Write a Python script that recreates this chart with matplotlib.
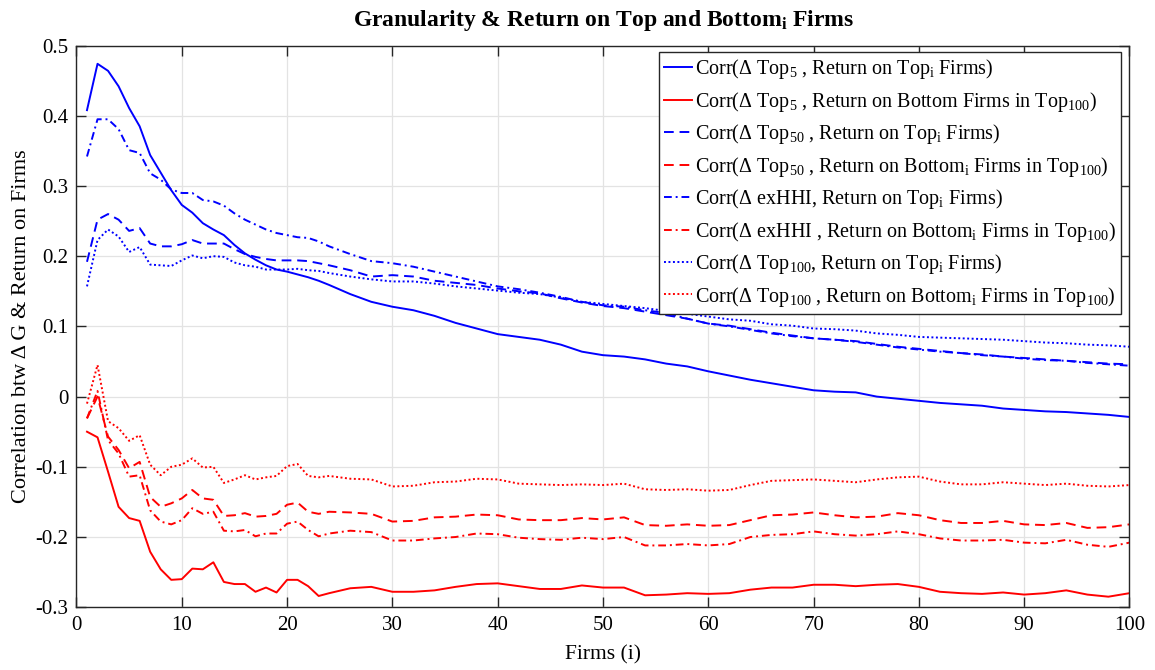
import matplotlib
matplotlib.use("Agg")
import matplotlib.pyplot as plt

plt.rcParams["font.family"] = ["Liberation Serif", "DejaVu Serif"]
plt.rcParams["mathtext.fontset"] = "custom"
plt.rcParams["mathtext.rm"] = "Liberation Serif"
plt.rcParams["mathtext.it"] = "Liberation Serif:italic"
plt.rcParams["mathtext.bf"] = "Liberation Serif:bold"
plt.rcParams["axes.unicode_minus"] = False

# number of firms i (dense at the start, every 2nd firm afterwards)
firms = list(range(1, 25)) + list(range(26, 101, 2))

# correlations with return on Top_i firms
top5_top = [0.408, 0.474, 0.464, 0.442, 0.411, 0.385, 0.344, 0.319, 0.294, 0.273, 0.262, 0.247,
            0.238, 0.230, 0.216, 0.204, 0.195, 0.187, 0.181, 0.178, 0.174, 0.170, 0.165, 0.159,
            0.146, 0.135, 0.128, 0.123, 0.115, 0.105, 0.097, 0.089, 0.085, 0.081, 0.074, 0.064,
            0.059, 0.057, 0.053, 0.047, 0.043, 0.036, 0.030,
            0.024, 0.019, 0.014, 0.009, 0.007, 0.006, 0.000, -0.003, -0.006, -0.009, -0.011,
            -0.013, -0.017, -0.019, -0.021, -0.022, -0.024, -0.026, -0.029]
top50_top = [0.192, 0.252, 0.260, 0.252, 0.236, 0.240, 0.218, 0.214, 0.214, 0.217, 0.223, 0.218,
             0.218, 0.218, 0.210, 0.203, 0.199, 0.196, 0.194, 0.194, 0.194, 0.193, 0.190, 0.187,
             0.180, 0.171, 0.173, 0.171, 0.165, 0.162, 0.159, 0.154, 0.150, 0.147, 0.140, 0.134,
             0.129, 0.126, 0.121, 0.116, 0.111, 0.104, 0.101,
             0.096, 0.091, 0.087, 0.083, 0.081, 0.079, 0.075, 0.071, 0.068, 0.065, 0.062,
             0.060, 0.057, 0.055, 0.053, 0.051, 0.049, 0.047, 0.046]
exhhi_top = [0.342, 0.395, 0.395, 0.381, 0.351, 0.347, 0.318, 0.309, 0.295, 0.290, 0.290, 0.280,
             0.278, 0.272, 0.261, 0.252, 0.245, 0.238, 0.233, 0.230, 0.227, 0.226, 0.221, 0.214,
             0.203, 0.193, 0.190, 0.185, 0.178, 0.171, 0.164, 0.157, 0.153, 0.148, 0.142, 0.135,
             0.130, 0.128, 0.123, 0.119, 0.111, 0.104, 0.100,
             0.095, 0.090, 0.086, 0.083, 0.081, 0.078, 0.074, 0.070, 0.067, 0.064, 0.062,
             0.059, 0.057, 0.054, 0.052, 0.051, 0.048, 0.046, 0.044]
top100_top = [0.157, 0.223, 0.238, 0.228, 0.206, 0.213, 0.188, 0.187, 0.186, 0.194, 0.201, 0.197,
              0.200, 0.199, 0.191, 0.187, 0.185, 0.181, 0.181, 0.181, 0.182, 0.180, 0.179, 0.176,
              0.171, 0.167, 0.164, 0.164, 0.161, 0.157, 0.154, 0.151, 0.148, 0.146, 0.141, 0.135,
              0.132, 0.129, 0.126, 0.122, 0.118, 0.114, 0.110,
              0.108, 0.103, 0.101, 0.097, 0.096, 0.094, 0.090, 0.088, 0.085, 0.084, 0.083,
              0.082, 0.081, 0.079, 0.077, 0.076, 0.074, 0.073, 0.071]

# correlations with return on Bottom_i firms in Top100
top5_bot = [-0.050, -0.058, -0.107, -0.157, -0.173, -0.177, -0.221, -0.246, -0.261, -0.260, -0.245,
            -0.246, -0.236, -0.264, -0.267, -0.267, -0.278, -0.272, -0.279, -0.261, -0.261, -0.270,
            -0.284, -0.280,
            -0.273, -0.271, -0.278, -0.278, -0.276, -0.271, -0.267, -0.266, -0.270, -0.274, -0.274,
            -0.269, -0.272, -0.272, -0.283, -0.282, -0.280, -0.281, -0.280,
            -0.275, -0.272, -0.272, -0.268, -0.268, -0.270, -0.268, -0.267, -0.271, -0.278, -0.280,
            -0.281, -0.279, -0.282, -0.280, -0.276, -0.282, -0.285, -0.280]
top50_bot = [-0.031, 0.000, -0.057, -0.076, -0.102, -0.093, -0.143, -0.157, -0.152, -0.145, -0.133,
             -0.145, -0.147, -0.170, -0.169, -0.166, -0.171, -0.170, -0.167, -0.154, -0.151, -0.164,
             -0.167, -0.164,
             -0.165, -0.167, -0.178, -0.177, -0.172, -0.171, -0.168, -0.169, -0.175, -0.176, -0.176,
             -0.173, -0.175, -0.172, -0.183, -0.184, -0.182, -0.184, -0.183,
             -0.176, -0.169, -0.168, -0.165, -0.169, -0.172, -0.171, -0.166, -0.169, -0.176, -0.180,
             -0.180, -0.177, -0.182, -0.183, -0.180, -0.187, -0.186, -0.182]
exhhi_bot = [-0.031, 0.008, -0.062, -0.081, -0.114, -0.112, -0.162, -0.178, -0.182, -0.176, -0.159,
             -0.167, -0.164, -0.191, -0.192, -0.190, -0.199, -0.195, -0.195, -0.181, -0.178, -0.190,
             -0.199, -0.195,
             -0.191, -0.193, -0.205, -0.205, -0.202, -0.200, -0.195, -0.196, -0.201, -0.203, -0.204,
             -0.201, -0.203, -0.200, -0.212, -0.212, -0.210, -0.212, -0.210,
             -0.200, -0.197, -0.196, -0.192, -0.196, -0.198, -0.196, -0.192, -0.196, -0.202, -0.205,
             -0.205, -0.204, -0.208, -0.209, -0.204, -0.211, -0.214, -0.208]
top100_bot = [-0.010, 0.045, -0.035, -0.045, -0.063, -0.055, -0.097, -0.112, -0.100, -0.097, -0.088,
              -0.101, -0.100, -0.123, -0.118, -0.112, -0.118, -0.115, -0.113, -0.099, -0.096, -0.113,
              -0.115, -0.113,
              -0.117, -0.118, -0.128, -0.127, -0.122, -0.121, -0.117, -0.118, -0.124, -0.125, -0.126,
              -0.125, -0.126, -0.124, -0.132, -0.133, -0.132, -0.134, -0.133,
              -0.126, -0.120, -0.119, -0.118, -0.120, -0.122, -0.118, -0.115, -0.114, -0.121, -0.125,
              -0.125, -0.122, -0.124, -0.126, -0.124, -0.127, -0.128, -0.126]

labels = [
    "Corr(Δ Top$_{5}$ , Return on Top$_{\\mathrm{i}}$ Firms)",
    "Corr(Δ Top$_{5}$ , Return on Bottom Firms in Top$_{100}$)",
    "Corr(Δ Top$_{50}$ , Return on Top$_{\\mathrm{i}}$ Firms)",
    "Corr(Δ Top$_{50}$ , Return on Bottom$_{\\mathrm{i}}$ Firms in Top$_{100}$)",
    "Corr(Δ exHHI, Return on Top$_{\\mathrm{i}}$ Firms)",
    "Corr(Δ exHHI , Return on Bottom$_{\\mathrm{i}}$ Firms in Top$_{100}$)",
    "Corr(Δ Top$_{100}$, Return on Top$_{\\mathrm{i}}$ Firms)",
    "Corr(Δ Top$_{100}$ , Return on Bottom$_{\\mathrm{i}}$ Firms in Top$_{100}$)",
]

solid = "-"
dashed = (0, (5, 3))
dashdot = (0, (4, 2, 1, 2))
dotted = (0, (1, 1.3))

series = [
    (top5_top, "#0000ff", solid), (top5_bot, "#ff0000", solid),
    (top50_top, "#0000ff", dashed), (top50_bot, "#ff0000", dashed),
    (exhhi_top, "#0000ff", dashdot), (exhhi_bot, "#ff0000", dashdot),
    (top100_top, "#0000ff", dotted), (top100_bot, "#ff0000", dotted),
]

fig = plt.figure(figsize=(11.55, 6.7), dpi=100)
ax = fig.add_axes([0.0662, 0.0937, 0.9117, 0.8383])

for (vals, col, ls), lab in zip(series, labels):
    ax.plot(firms, vals, color=col, linestyle=ls, linewidth=1.4, label=lab)

ax.set_xlim(0, 100)
ax.set_ylim(-0.3, 0.5)
ax.set_xticks(range(0, 101, 10))
ax.set_yticks([-0.3, -0.2, -0.1, 0, 0.1, 0.2, 0.3, 0.4, 0.5])
ax.set_yticklabels(["-0.3", "-0.2", "-0.1", "0", "0.1", "0.2", "0.3", "0.4", "0.5"])
ax.grid(True, color="#e3e3e3", linewidth=0.9)
ax.set_axisbelow(True)
ax.tick_params(direction="in", length=7, width=1, top=True, right=True,
               labelsize=15, color="#262626", pad=6)
for sp in ax.spines.values():
    sp.set_color("#262626")
    sp.set_linewidth(1.0)

ax.set_xlabel("Firms (i)", fontsize=15.5, labelpad=8)
ax.set_ylabel("Correlation btw Δ G & Return on Firms", fontsize=16, labelpad=3)
ax.set_title("Granularity & Return on Top and Bottom$_{\\mathbf{i}}$ Firms",
             fontsize=17, fontweight="bold", pad=14)

leg = ax.legend(loc="upper right", bbox_to_anchor=(0.992, 0.988), fontsize=14.5,
                handlelength=1.4, handletextpad=0.15, labelspacing=0.42,
                borderpad=0.25, borderaxespad=0.0, fancybox=False, framealpha=1,
                edgecolor="#262626")
leg.get_frame().set_linewidth(1.0)

fig.savefig("out.png", dpi=100)
